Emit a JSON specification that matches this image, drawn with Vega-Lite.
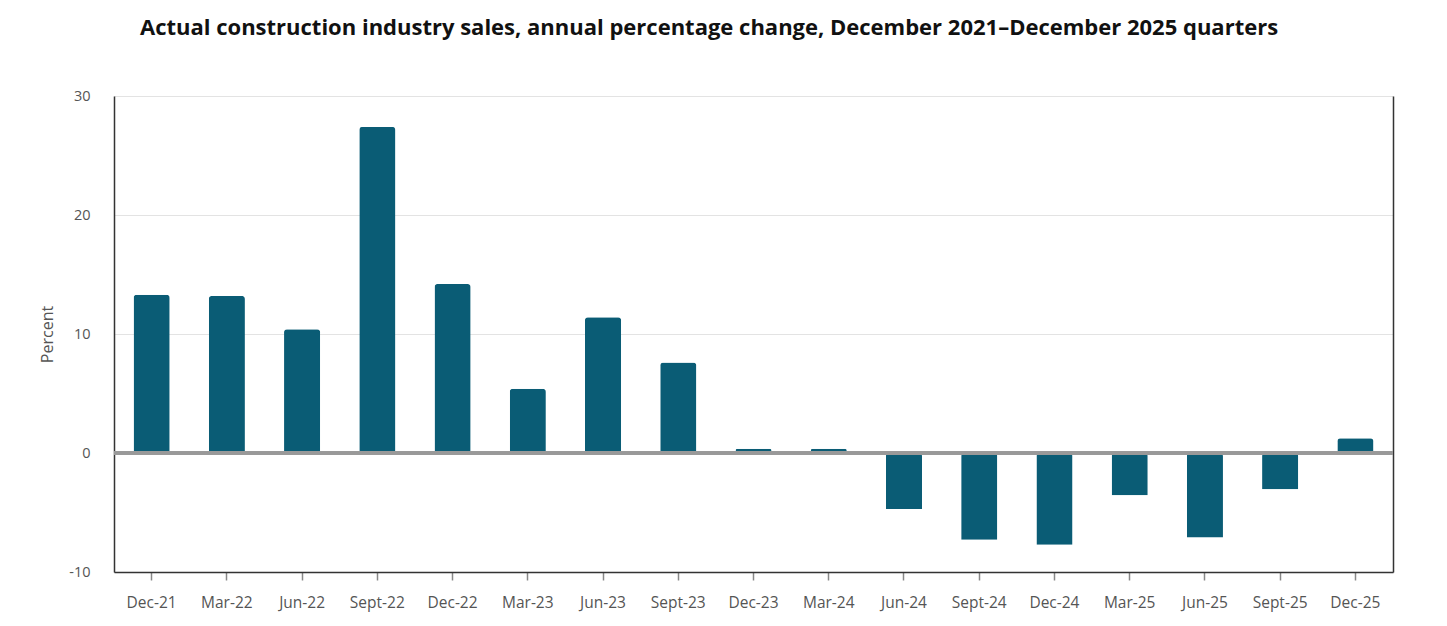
{
  "$schema": "https://vega.github.io/schema/vega-lite/v6.json",
  "width": 1279,
  "height": 476,
  "autosize": {"type": "none"},
  "padding": {"left": 114, "top": 96, "right": 54, "bottom": 54},
  "background": "white",
  "title": {
    "text": "Actual construction industry sales, annual percentage change, December 2021–December 2025 quarters",
    "anchor": "start",
    "frame": "group",
    "dx": 26,
    "offset": 48,
    "fontSize": 22,
    "font": "Open Sans",
    "fontWeight": "bold",
    "color": "#111111"
  },
  "data": {
    "values": [
      {"quarter": "Dec-21", "value": 13.3},
      {"quarter": "Mar-22", "value": 13.2},
      {"quarter": "Jun-22", "value": 10.4},
      {"quarter": "Sept-22", "value": 27.4},
      {"quarter": "Dec-22", "value": 14.2},
      {"quarter": "Mar-23", "value": 5.4},
      {"quarter": "Jun-23", "value": 11.4},
      {"quarter": "Sept-23", "value": 7.6},
      {"quarter": "Dec-23", "value": 0.35},
      {"quarter": "Mar-24", "value": 0.35},
      {"quarter": "Jun-24", "value": -4.7},
      {"quarter": "Sept-24", "value": -7.3},
      {"quarter": "Dec-24", "value": -7.7},
      {"quarter": "Mar-25", "value": -3.55},
      {"quarter": "Jun-25", "value": -7.1},
      {"quarter": "Sept-25", "value": -3.05},
      {"quarter": "Dec-25", "value": 1.25}
    ]
  },
  "layer": [
    {
      "mark": {"type": "bar", "color": "#0a5c75", "cornerRadiusEnd": 3},
      "encoding": {
        "x": {
          "field": "quarter",
          "type": "nominal",
          "sort": null,
          "scale": {"paddingInner": 0.52, "paddingOuter": 0.26},
          "axis": {
            "title": null,
            "labelAngle": 0,
            "labelFont": "Open Sans",
            "labelFontSize": 15.5,
            "labelColor": "#555555",
            "labelPadding": 15,
            "tickSize": 8,
            "tickColor": "#888888",
            "tickWidth": 1.5,
            "domainColor": "#333333",
            "domainWidth": 1.5
          }
        },
        "y": {
          "field": "value",
          "type": "quantitative",
          "scale": {"domain": [-10, 30], "nice": false},
          "axis": {
            "title": "Percent",
            "titleFont": "Open Sans",
            "titleFontSize": 16,
            "titleFontWeight": "normal",
            "titleColor": "#555555",
            "titlePadding": 13,
            "values": [-10, 0, 10, 20, 30],
            "labelExpr": "'' + datum.value",
            "labelFont": "Open Sans",
            "labelFontSize": 14.5,
            "labelColor": "#555555",
            "labelPadding": 24,
            "ticks": false,
            "grid": true,
            "gridColor": "#e3e3e3",
            "gridWidth": 1,
            "domainColor": "#333333",
            "domainWidth": 1.5
          }
        }
      }
    },
    {
      "mark": {"type": "rule", "color": "#999999", "strokeWidth": 3},
      "encoding": {
        "y": {
          "datum": 0,
          "type": "quantitative",
          "axis": {
            "orient": "right",
            "labels": false,
            "ticks": false,
            "grid": false,
            "title": null,
            "domainColor": "#333333",
            "domainWidth": 1.5
          }
        }
      }
    }
  ],
  "resolve": {"axis": {"y": "independent"}},
  "config": {"view": {"stroke": null}}
}
